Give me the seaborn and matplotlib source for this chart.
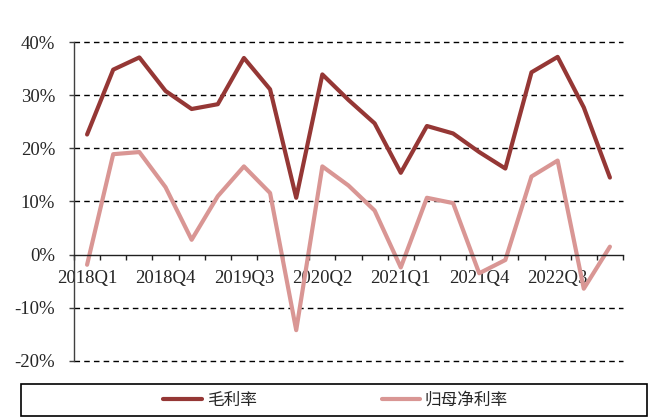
import pandas as pd
import numpy as np

import matplotlib
matplotlib.use("Agg")
import matplotlib.pyplot as plt
import seaborn as sns
from matplotlib.patches import Rectangle
from matplotlib.ticker import FixedLocator, FuncFormatter

# ==============================
# Data
# ==============================

quarters = [
    "2018Q1", "2018Q2", "2018Q3", "2018Q4",
    "2019Q1", "2019Q2", "2019Q3", "2019Q4",
    "2020Q1", "2020Q2", "2020Q3", "2020Q4",
    "2021Q1", "2021Q2", "2021Q3", "2021Q4",
    "2022Q1", "2022Q2", "2022Q3", "2022Q4",
    "2023Q1",
]

gross_margin = [
    22.6, 34.8, 37.1, 30.8, 27.4, 28.3, 37.0, 31.1, 10.7, 33.9,
    29.1, 24.7, 15.4, 24.2, 22.8, 19.3, 16.2, 34.3, 37.2, 27.7, 14.5,
]

net_margin = [
    -1.9, 18.9, 19.3, 12.7, 2.8, 11.0, 16.6, 11.6, -14.2, 16.6,
    13.0, 8.3, -2.4, 10.7, 9.7, -3.5, -1.0, 14.7, 17.7, -6.4, 1.5,
]

series_names = ["毛利率", "归母净利率"]
series_colors = ["#953735", "#D99694"]

df = pd.DataFrame({
    "quarter": quarters * 2,
    "pos": list(range(len(quarters))) * 2,
    "value": gross_margin + net_margin,
    "series": [series_names[0]] * len(quarters) + [series_names[1]] * len(quarters),
})

# ==============================
# Plot
# ==============================

sns.set_theme(style="white")
plt.rcParams["font.family"] = ["Liberation Serif", "Noto Sans CJK SC", "DejaVu Sans"]

fig = plt.figure(figsize=(6.48, 4.18), dpi=100)
ax = fig.add_axes([0.1142, 0.1364, 0.8472, 0.7631])
ax.set_axisbelow(True)

sns.lineplot(
    data=df,
    x="pos",
    y="value",
    hue="series",
    hue_order=series_names,
    palette=series_colors,
    linewidth=3,
    ax=ax,
)

ax.set_xlim(-0.5, len(quarters) - 0.5)
ax.set_ylim(-20, 40)

# dashed grid lines
for yv in [-20, -10, 10, 20, 30, 40]:
    ax.axhline(yv, color="black", linestyle=(0, (4, 3)), linewidth=1,
               zorder=0, clip_on=False)

# spines
for side in ["top", "right"]:
    ax.spines[side].set_visible(False)
ax.spines["left"].set_color("#404040")
ax.spines["left"].set_linewidth(1)
ax.spines["bottom"].set_position(("data", 0))
ax.spines["bottom"].set_color("#202020")
ax.spines["bottom"].set_linewidth(1)

# y axis
ax.set_yticks([-20, -10, 0, 10, 20, 30, 40])
ax.yaxis.set_major_formatter(FuncFormatter(lambda v, p: f"{v:.0f}%"))
ax.tick_params(axis="y", direction="out", length=3.6, width=1, color="#404040",
               labelsize=13.5, pad=10, left=True)

# x axis: labels every 3rd quarter, ticks at boundaries
ax.set_xticks(range(0, len(quarters), 3))
ax.set_xticklabels(quarters[::3])
ax.xaxis.set_minor_locator(FixedLocator(np.arange(-0.5, len(quarters), 1)))
ax.tick_params(axis="x", which="major", length=0, labelsize=13.5, pad=11, bottom=True)
ax.tick_params(axis="x", which="minor", direction="out", length=3.6, width=1,
               color="#202020", bottom=True)

ax.set_xlabel("")
ax.set_ylabel("")

# ==============================
# Legend
# ==============================

handles, labels = ax.get_legend_handles_labels()
ax.get_legend().remove()

fig.patches.append(Rectangle(
    (0.0324, 0.0048), 0.966, 0.0766,
    transform=fig.transFigure, fill=False, edgecolor="black", linewidth=1.2,
))

fig.legend(
    handles,
    labels,
    loc="center",
    bbox_to_anchor=(0.518, 0.043),
    ncol=2,
    frameon=False,
    prop={"family": "Noto Sans CJK SC", "size": 12},
    handlelength=2.3,
    handletextpad=0.3,
    columnspacing=7.5,
)

fig.savefig("out.png", dpi=100)
